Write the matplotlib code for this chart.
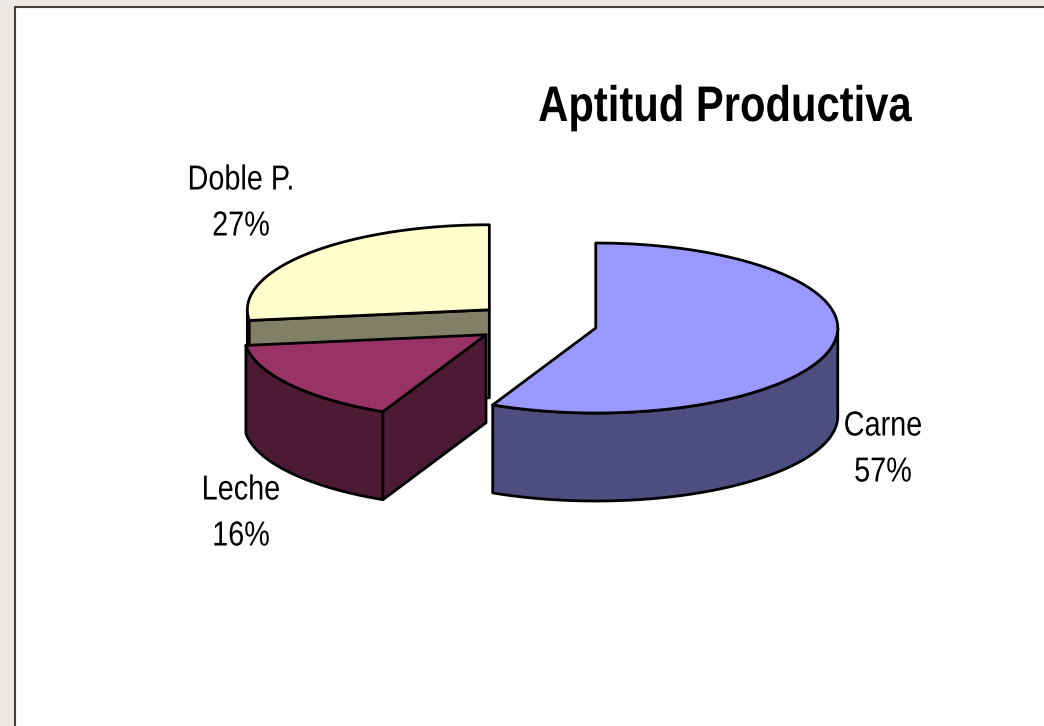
import numpy as np
import matplotlib
matplotlib.use('Agg')
import matplotlib.pyplot as plt
from matplotlib.patches import Polygon, Rectangle
from matplotlib import patheffects
from matplotlib.transforms import Affine2D

# datos del grafico
categorias = ['Carne', 'Leche', 'Doble P.']
valores = [57, 16, 27]
colores = ['#9999FF', '#993366', '#FFFFCC']
explode = [0.27, 0.235, 0.235]
titulo = 'Aptitud Productiva'

fuente = ['Liberation Sans', 'DejaVu Sans']


# letra angosta (tipo Arial Narrow): se comprime el texto en x alrededor de su centro
class Angosta(patheffects.AbstractPathEffect):
    def __init__(self, sx, x0):
        super().__init__()
        self.sx = sx
        self.x0 = x0

    def draw_path(self, renderer, gc, tpath, affine, rgbFace=None):
        t = affine + Affine2D().translate(-self.x0, 0).scale(self.sx, 1).translate(self.x0, 0)
        renderer.draw_path(gc, tpath, t, rgbFace)


fig = plt.figure(figsize=(10.44, 7.26), dpi=100)
fig.patch.set_facecolor('#ECE9E6')
ax = fig.add_axes([0, 0, 1, 1])
ax.set_xlim(0, 1044)
ax.set_ylim(726, 0)
ax.axis('off')

# marco blanco
ax.add_patch(Rectangle((15, 7), 1100, 800, facecolor='white', edgecolor='#404040', lw=1.5, zorder=0))

# geometria del pie 3d (coordenadas en pixeles)
cx, cy = 532, 323
rx, ry = 242, 85
depth = 88
lw = 2.0


def punto(c, t, dz=0):
    return c[0] + rx * np.cos(t), c[1] - ry * np.sin(t) + dz


def oscuro(col):
    return np.array(matplotlib.colors.to_rgb(col)) * 0.5


# angulos: empieza a las 12 y va en sentido horario
total = sum(valores)
fr = np.array(valores) / total
fin = np.pi / 2 - np.cumsum(fr) * 2 * np.pi
ini = np.concatenate([[np.pi / 2], fin[:-1]])

porciones = []
for i in range(len(valores)):
    a, b = fin[i], ini[i]  # rango antihorario [a, b]
    mid = (a + b) / 2
    c = (cx + explode[i] * rx * np.cos(mid), cy - explode[i] * ry * np.sin(mid))
    porciones.append((a, b, c))

# orden de dibujo: Doble P., Leche, Carne
orden = [2, 1, 0]
for k, i in enumerate(orden):
    a, b, c = porciones[i]
    z = 2 + k * 3
    lado = oscuro(colores[i])
    a2, b2 = a, b
    while a2 < 0:
        a2 += 2 * np.pi
        b2 += 2 * np.pi
    # pared curva visible (parte delantera)
    for lo_, hi_ in [(np.pi, 2 * np.pi), (3 * np.pi, 4 * np.pi)]:
        lo = max(a2, lo_)
        hi = min(b2, hi_)
        if hi > lo:
            t = np.linspace(lo, hi, 120)
            top = [punto(c, tt) for tt in t]
            bot = [punto(c, tt, depth) for tt in t[::-1]]
            ax.add_patch(Polygon(top + bot, closed=True, facecolor=lado, edgecolor='black',
                                 lw=lw, zorder=z, joinstyle='round'))
    # caras radiales
    for t, vis in [(a, np.cos(a) > 1e-6), (b, np.cos(b) < -1e-6)]:
        if vis:
            p = punto(c, t)
            pts = [c, p, (p[0], p[1] + depth), (c[0], c[1] + depth)]
            ax.add_patch(Polygon(pts, closed=True, facecolor=lado, edgecolor='black',
                                 lw=lw, zorder=z + 1, joinstyle='round'))
    # tapa superior
    t = np.linspace(a, b, 200)
    pts = [c] + [punto(c, tt) for tt in t]
    ax.add_patch(Polygon(pts, closed=True, facecolor=colores[i], edgecolor='black',
                         lw=lw, zorder=z + 2, joinstyle='round'))


def texto(x, y, s, sx, **kw):
    x0 = ax.transData.transform((x, y))[0]
    ax.text(x, y, s, ha='center', va='center', family=fuente, zorder=20,
            path_effects=[Angosta(sx, x0)], **kw)


# etiquetas
pos_etiquetas = [(883, 449), (241, 513), (241, 203)]
for i in range(len(valores)):
    x, y = pos_etiquetas[i]
    texto(x, y, '%s\n%d%%' % (categorias[i], round(fr[i] * 100)), 0.83,
          fontsize=25, linespacing=1.5)

texto(725, 108, titulo, 0.835, fontsize=36, fontweight='bold')

fig.savefig('out.png', dpi=100, facecolor=fig.get_facecolor())
